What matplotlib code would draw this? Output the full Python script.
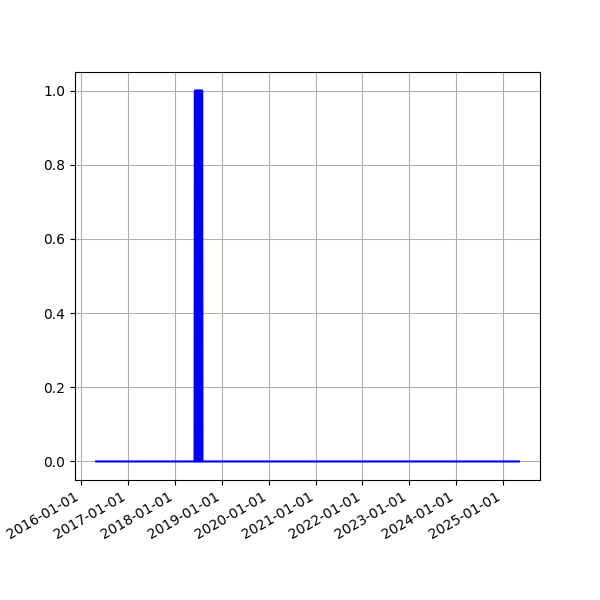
import matplotlib
matplotlib.use('Agg')
import matplotlib.pyplot as plt
import matplotlib.dates as mdates
import pandas as pd

dates = ['2016-04-27', '2018-06-03', '2018-06-06', '2018-06-10', '2018-06-13',
         '2018-06-17', '2018-06-20', '2018-06-24', '2018-06-27', '2018-07-01',
         '2018-07-04', '2018-07-08', '2018-07-11', '2018-07-15', '2018-07-18',
         '2018-07-22', '2018-07-25', '2018-07-29', '2018-08-01', '2018-08-04',
         '2025-05-05']
values = [0, 0, 1, 0, 1,
          0, 1, 0, 1, 0,
          1, 0, 1, 0, 1,
          0, 1, 0, 1, 0,
          0]

df = pd.DataFrame({'date': pd.to_datetime(dates), 'value': values})

fig, ax = plt.subplots(figsize=(6, 6), dpi=100)
ax.plot(df['date'], df['value'], color='b')
ax.xaxis.set_major_locator(mdates.YearLocator())
ax.xaxis.set_major_formatter(mdates.DateFormatter('%Y-%m-%d'))
ax.grid(True)
fig.autofmt_xdate()
fig.savefig('out.png')
